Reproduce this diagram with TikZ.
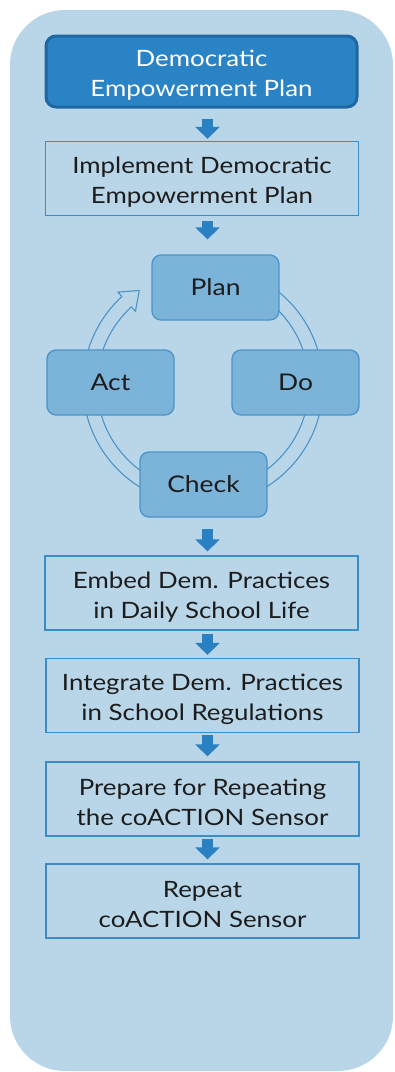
\documentclass[tikz,border=0pt]{standalone}
\usepackage{fontspec}
\setmainfont{Lato}[FakeStretch=1.15]
\usetikzlibrary{arrows.meta}
\definecolor{bgblue}{HTML}{B9D6E9}
\definecolor{topfill}{HTML}{2A83C4}
\definecolor{topedge}{HTML}{1F67A1}
\definecolor{boxline}{HTML}{3B8DC8}
\definecolor{cycfill}{HTML}{7CB3D8}
\definecolor{cycline}{HTML}{4B93C8}
\definecolor{arrblue}{HTML}{2A80C1}
\definecolor{txt}{HTML}{1C1C1C}
\tikzset{
  topbox/.style={draw=topedge, fill=topfill, line width=3pt, rounded corners=10pt,
    minimum width=311pt, minimum height=71pt, align=center, text=white,
    font=\fontsize{22.5}{30}\selectfont},
  flowbox/.style={draw=boxline, line width=1.3pt, minimum width=313pt, minimum height=74pt,
    align=center, text=txt, font=\fontsize{22.5}{30}\selectfont},
  cycbox/.style={draw=cycline, fill=cycfill, line width=1.3pt, rounded corners=9pt,
    minimum width=127pt, minimum height=65pt, text=txt, font=\fontsize{23}{28}\selectfont},
  ring/.style={draw=cycline, fill=bgblue, line width=1.1pt, line join=round},
  flowarr/.style={draw=arrblue, line width=11pt, -{Triangle[width=24pt,length=12pt]}}
}
\newcommand{\lift}{\rule{0pt}{24pt}}
\begin{document}
\begin{tikzpicture}[x=1pt, y=-1pt]
  \useasboundingbox (0,0) rectangle (394,1072);
  \fill[bgblue, rounded corners=55pt] (10,10) rectangle (393,1071);
  \coordinate (axis) at (207.5,0);
  \coordinate (cyc) at (203,385);
  % PDCA ring, drawn under the boxes
  \draw[ring] ([shift={(-80:120)}]cyc) arc[start angle=-80, end angle=227.5, radius=120]
    -- ([shift={(227.5:126)}]cyc) -- ([shift={(236:114)}]cyc) -- ([shift={(227.5:100)}]cyc)
    -- ([shift={(227.5:106)}]cyc) arc[start angle=227.5, end angle=-80, radius=106] -- cycle;
  \node[topbox]  (dep)   at (201.5,71.5) {\lift Democratic\\Empowerment Plan};
  \node[flowbox] (impl)  at (202,178.5)  {\lift Implement Democratic\\Empowerment Plan};
  \node[cycbox]  (plan)  at (215.5,287.5) {Plan};
  \node[cycbox]  (act)   at (110.5,382.5) {Act};
  \node[cycbox]  (do)    at (295.5,382.5) {Do};
  \node[cycbox]  (check) at (203.5,484.5) {Check};
  \node[flowbox] (embed) at (201.5,593)  {\lift Embed Dem. Practices\\in Daily School Life};
  \node[flowbox] (integ) at (202.5,695.5) {\lift Integrate Dem. Practices\\in School Regulations};
  \node[flowbox] (prep)  at (202.5,799)  {\lift Prepare for Repeating\\the coACTION Sensor};
  \node[flowbox] (rep)   at (202.5,901)  {\lift Repeat\\coACTION Sensor};
  \draw[flowarr, shorten <=10pt, shorten >=2pt]  (dep.south -| axis)   -- (impl.north -| axis);
  \draw[flowarr, shorten <=5pt, shorten >=15pt]  (impl.south -| axis)  -- (plan.north -| axis);
  \draw[flowarr, shorten <=11pt, shorten >=4pt]  (check.south -| axis) -- (embed.north -| axis);
  \draw[flowarr, shorten <=3pt, shorten >=3pt]   (embed.south -| axis) -- (integ.north -| axis);
  \draw[flowarr, shorten <=2pt, shorten >=5pt]   (integ.south -| axis) -- (prep.north -| axis);
  \draw[flowarr, shorten <=2pt, shorten >=4pt]   (prep.south -| axis)  -- (rep.north -| axis);
\end{tikzpicture}
\end{document}
